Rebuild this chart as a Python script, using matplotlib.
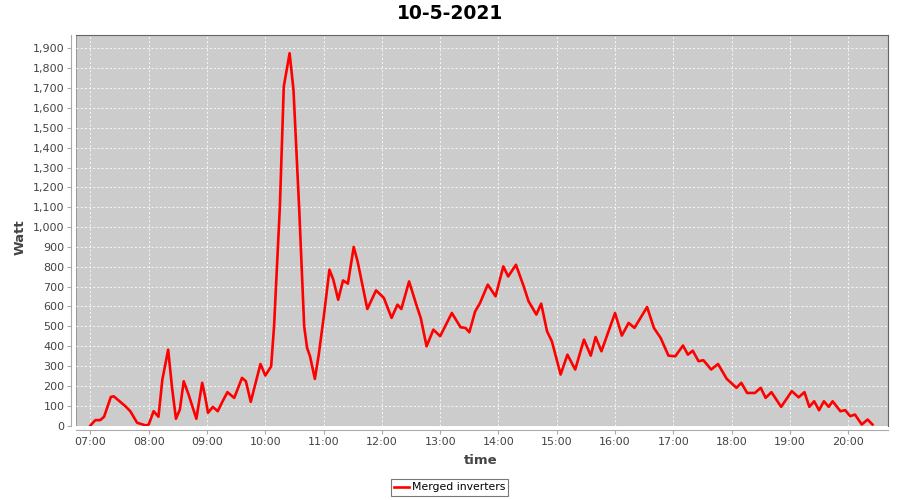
import pandas as pd
import matplotlib
matplotlib.use("Agg")
import matplotlib.pyplot as plt
import matplotlib.dates as mdates

# readings of the merged inverters (time of day, watt)
times = ['07:00', '07:05', '07:10', '07:14', '07:21', '07:24', '07:36', '07:41', '07:48', '07:57',
         '08:00', '08:05', '08:10', '08:14', '08:20', '08:24', '08:28', '08:32', '08:36', '08:41',
         '08:49', '08:55', '08:58', '09:01', '09:06', '09:11', '09:16', '09:21', '09:28', '09:36',
         '09:40', '09:45', '09:50', '09:55', '10:00', '10:06', '10:09', '10:15', '10:19', '10:25',
         '10:29', '10:35', '10:40', '10:43', '10:46', '10:51', '10:55', '11:00', '11:06', '11:10',
         '11:15', '11:20', '11:25', '11:31', '11:35', '11:45', '11:54', '12:02', '12:10', '12:16',
         '12:20', '12:28', '12:36', '12:40', '12:46', '12:53', '13:00', '13:12', '13:21', '13:26',
         '13:30', '13:36', '13:41', '13:49', '13:57', '14:05', '14:10', '14:18', '14:26', '14:31',
         '14:39', '14:44', '14:50', '14:55', '15:04', '15:11', '15:19', '15:28', '15:35', '15:40',
         '15:46', '15:53', '16:00', '16:07', '16:14', '16:20', '16:33', '16:40', '16:47', '16:55',
         '17:02', '17:10', '17:15', '17:20', '17:26', '17:31', '17:39', '17:46', '17:55', '18:05',
         '18:10', '18:16', '18:24', '18:30', '18:35', '18:41', '18:51', '19:02', '19:09', '19:15',
         '19:20', '19:25', '19:30', '19:35', '19:40', '19:44', '19:52', '19:57', '20:02', '20:07',
         '20:14', '20:20', '20:25']
watt = [0, 27, 27, 44, 144, 147, 97, 72, 14, 0,
        5, 72, 44, 231, 382, 190, 34, 80, 223, 156,
        34, 215, 147, 64, 94, 72, 122, 168, 139, 240,
        223, 119, 215, 310, 252, 298, 500, 1104, 1708, 1876,
        1691, 1078, 500, 391, 349, 235, 357, 542, 785, 735,
        634, 731, 715, 900, 827, 587, 681, 643, 542, 609,
        587, 726, 600, 542, 399, 483, 450, 567, 495, 492,
        470, 575, 617, 710, 651, 802, 751, 810, 701, 626,
        559, 614, 475, 424, 257, 357, 282, 433, 352, 446,
        374, 470, 567, 453, 517, 492, 597, 492, 441, 352,
        349, 403, 357, 377, 324, 329, 282, 310, 235, 190,
        215, 164, 164, 190, 139, 168, 94, 173, 142, 168,
        94, 122, 77, 122, 94, 122, 72, 77, 47, 55,
        5, 30, 5]

day = '2021-05-10 '
df = pd.DataFrame({'time': pd.to_datetime([day + t for t in times]), 'watt': watt})

plt.rcParams['font.family'] = ['DejaVu Sans']

fig = plt.figure(figsize=(9, 5), dpi=100)
ax = fig.add_axes([75.5 / 900, 74.5 / 500, 812.5 / 900, 390.5 / 500])
ax.set_facecolor('#cccccc')

ax.plot(df['time'], df['watt'], color='#ff0000', linewidth=1.9, label='Merged inverters',
        solid_joinstyle='round')

ax.set_xlim(pd.Timestamp(day + '06:44:36'), pd.Timestamp(day + '20:41:00'))
ax.set_ylim(0, 1968)
ax.set_yticks(range(0, 2000, 100))
ax.yaxis.set_major_formatter(matplotlib.ticker.StrMethodFormatter('{x:,.0f}'))
ax.xaxis.set_major_locator(mdates.HourLocator())
ax.xaxis.set_major_formatter(mdates.DateFormatter('%H:%M'))

ax.grid(True, color='#f4f4f4', linestyle=(0, (2, 2)), linewidth=0.75)
ax.set_axisbelow(True)

# axis lines sit a few pixels away from the plot area
ax.spines['left'].set_position(('outward', 3))
ax.spines['bottom'].set_position(('outward', 3))
ax.spines['left'].set_color('#aaaaaa')
ax.spines['bottom'].set_color('#aaaaaa')
ax.spines['top'].set_color('#666666')
ax.spines['right'].set_color('#666666')
ax.add_patch(plt.Rectangle((0, 0), 1, 1, transform=ax.transAxes, fill=False,
                           edgecolor='#999999', linewidth=0.8, zorder=0.5))
ax.tick_params(colors='#aaaaaa', labelcolor='#444444', labelsize=8, length=3, pad=2)

fig.text(0.5, 1 - 13.5 / 500, '10-5-2021', fontsize=13.5, fontweight='bold',
         ha='center', va='center')
fig.text(481 / 900, 1 - 460 / 500, 'time', fontsize=9.5, fontweight='bold',
         color='#444444', ha='center', va='center')
fig.text(20 / 900, 1 - 237 / 500, 'Watt', fontsize=9.5, fontweight='bold',
         color='#444444', ha='center', va='center', rotation=90)

leg = fig.legend(loc='center', bbox_to_anchor=(449.5 / 900, 1 - 487.5 / 500), fontsize=7.8,
                 frameon=True, fancybox=False, handlelength=1.4, borderpad=0.3,
                 handletextpad=0.25, borderaxespad=0)
leg.get_frame().set_edgecolor('#555555')
leg.get_frame().set_linewidth(0.8)

fig.savefig('out.png', dpi=100)
